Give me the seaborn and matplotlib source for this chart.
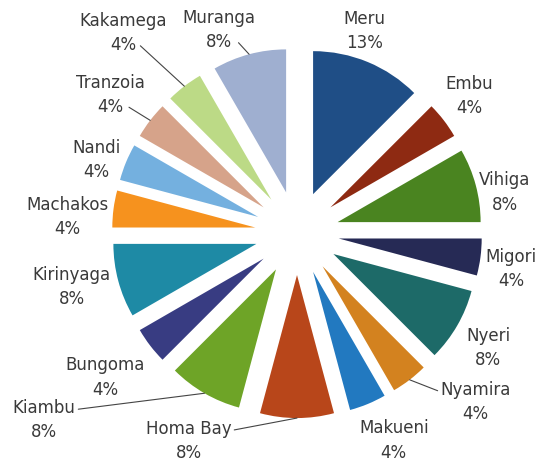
import numpy as np
import seaborn as sns
import matplotlib.pyplot as plt

counties = ['Meru', 'Embu', 'Vihiga', 'Migori', 'Nyeri', 'Nyamira', 'Makueni',
            'Homa Bay', 'Kiambu', 'Bungoma', 'Kirinyaga', 'Machakos', 'Nandi',
            'Tranzoia', 'Kakamega', 'Muranga']
# wedge sizes (number of cases, 24 in all) and the printed percentages
cases = [3, 1, 2, 1, 2, 1, 1, 2, 2, 1, 2, 1, 1, 1, 1, 2]
pct_labels = [13, 4, 8, 4, 8, 4, 4, 8, 8, 4, 8, 4, 4, 4, 4, 8]
colors = ['#1f4e86', '#8e2a12', '#4a8420', '#262a55', '#1d6a68', '#d3821f',
          '#2279c0', '#b8461a', '#6ea427', '#383c82', '#1e8aa5', '#f6921e',
          '#74b0df', '#d6a38a', '#bcda86', '#9fafd0']

# label placement: (angle nudge in deg, distance from centre in radii)
label_place = {
    'Meru': (4, 1.49), 'Embu': (1, 1.54), 'Vihiga': (-4, 1.48),
    'Migori': (-2, 1.52), 'Nyeri': (-1, 1.56), 'Nyamira': (9, 1.72),
    'Makueni': (2.5, 1.60), 'Homa Bay': (-27.5, 1.64), 'Kiambu': (-23.5, 2.20),
    'Bungoma': (-0.5, 1.68), 'Kirinyaga': (-1.5, 1.62), 'Machakos': (3.5, 1.61),
    'Nandi': (2.5, 1.49), 'Tranzoia': (1, 1.62), 'Kakamega': (3.5, 1.85),
    'Muranga': (6, 1.52),
}
# leader lines: where the line leaves the text box
leaders = {'Nyamira': (0.0, 0.75), 'Homa Bay': (1.0, 0.75), 'Kiambu': (1.0, 0.75),
           'Tranzoia': (0.73, 0.25), 'Kakamega': (0.67, 0.25), 'Muranga': (0.74, 0.25)}

sns.set_theme(style='white')
plt.rcParams['font.family'] = ['DejaVu Sans']

explode_frac = 0.294
fig = plt.figure(figsize=(5.52, 4.66), dpi=100)
ax = fig.add_axes([0, 0, 1, 1])
wedges, _ = ax.pie(cases, colors=sns.color_palette(colors), startangle=90,
                   counterclock=False, explode=[explode_frac] * len(cases),
                   radius=1, wedgeprops=dict(linewidth=0))

text_color = '#3a3a3a'
fs = 12
for w, name, pct in zip(wedges, counties, pct_labels):
    mid = np.deg2rad((w.theta1 + w.theta2) / 2)
    dang, dist = label_place[name]
    ang = mid + np.deg2rad(dang)
    tx, ty = dist * np.cos(ang), dist * np.sin(ang)
    label = f'{name}\n{pct}%'
    if name in leaders:
        edge = 1 + explode_frac
        ax.annotate(label, xy=(edge * np.cos(mid), edge * np.sin(mid)),
                    xytext=(tx, ty), ha='center', va='center', fontsize=fs,
                    color=text_color, linespacing=1.45,
                    arrowprops=dict(arrowstyle='-', color='#444444', lw=0.8,
                                    relpos=leaders[name], patchA=None,
                                    shrinkA=2, shrinkB=0))
    else:
        ax.text(tx, ty, label, ha='center', va='center', fontsize=fs,
                color=text_color, linespacing=1.45)

ax.set_xlim(-297 / 143, 255 / 143)
ax.set_ylim(-233 / 143, 233 / 143)
ax.set_aspect('auto')
ax.axis('off')

fig.savefig('out.png', dpi=100)
plt.close()
